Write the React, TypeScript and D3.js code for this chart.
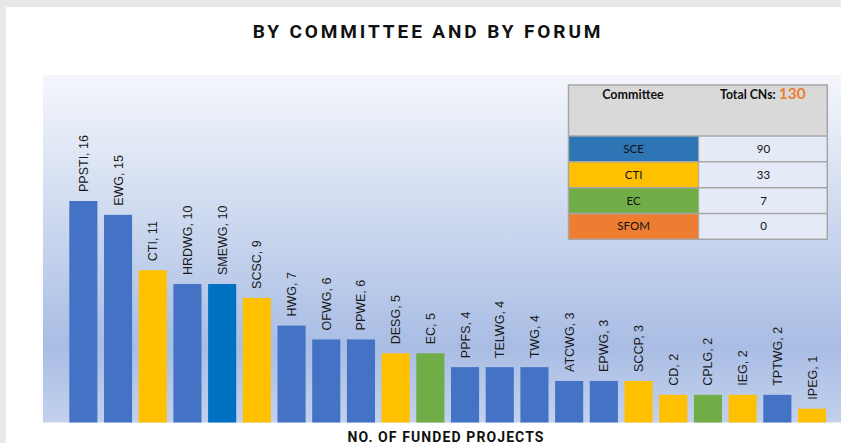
import * as d3 from 'd3';
import React, { useEffect, useRef } from 'react';

// forum names, funded project counts and which committee each belongs to
const forums = ['PPSTI', 'EWG', 'CTI', 'HRDWG', 'SMEWG', 'SCSC', 'HWG', 'OFWG', 'PPWE', 'DESG', 'EC', 'PPFS', 'TELWG', 'TWG', 'ATCWG', 'EPWG', 'SCCP', 'CD', 'CPLG', 'IEG', 'TPTWG', 'IPEG'];
const projects = [16, 15, 11, 10, 10, 9, 7, 6, 6, 5, 5, 4, 4, 4, 3, 3, 3, 2, 2, 2, 2, 1];
const groups = ['SCE', 'SCE', 'CTI', 'SCE', 'SCE2', 'CTI', 'SCE', 'SCE', 'SCE', 'CTI', 'EC', 'SCE', 'SCE', 'SCE', 'SCE', 'SCE', 'CTI', 'CTI', 'EC', 'CTI', 'SCE', 'CTI'];

// summary table
const committees = ['SCE', 'CTI', 'EC', 'SFOM'];
const committeeTotals = [90, 33, 7, 0];
const totalCNs = 130;

const barColor = d3
  .scaleOrdinal<string, string>()
  .domain(['SCE', 'SCE2', 'CTI', 'EC'])
  .range(['#4472c4', '#0070c0', '#ffc000', '#70ad47']);

const tableColor = d3
  .scaleOrdinal<string, string>()
  .domain(committees)
  .range(['#2e75b6', '#ffc000', '#70ad47', '#ed7d31']);

export default function App() {
  const svgRef = useRef<SVGSVGElement>(null);
  const width = 841;
  const height = 443;
  const plotLeft = 43;
  const plotTop = 75;
  const plotBottom = 422.5;

  useEffect(() => {
    const svg = d3.select(svgRef.current);
    svg.selectAll('*').remove();

    const data = forums.map((f, i) => ({ forum: f, value: projects[i], group: groups[i] }));

    const x = d3
      .scaleBand()
      .domain(forums)
      .range([66, 829.4])
      .paddingInner(0.19)
      .paddingOuter(0.095);

    const y = d3.scaleLinear().domain([0, 16]).range([plotBottom, 201]);

    // page background
    svg.append('rect').attr('width', width).attr('height', height).attr('fill', '#e8e8e8');
    svg.append('rect').attr('x', 6).attr('y', 7).attr('width', width - 6).attr('height', height - 7).attr('fill', '#ffffff');

    // plot gradient
    const defs = svg.append('defs');
    const grad = defs
      .append('linearGradient')
      .attr('id', 'plotGrad')
      .attr('x1', 0)
      .attr('y1', 0)
      .attr('x2', 0)
      .attr('y2', 1);
    grad.append('stop').attr('offset', '0%').attr('stop-color', '#f4f6fb');
    grad.append('stop').attr('offset', '25%').attr('stop-color', '#dde5f4');
    grad.append('stop').attr('offset', '78%').attr('stop-color', '#a9bde4');
    grad.append('stop').attr('offset', '100%').attr('stop-color', '#c3d1ed');

    svg
      .append('rect')
      .attr('x', plotLeft)
      .attr('y', plotTop)
      .attr('width', width - plotLeft)
      .attr('height', plotBottom - plotTop)
      .attr('fill', 'url(#plotGrad)');

    // title
    svg
      .append('text')
      .attr('x', 428)
      .attr('y', 38)
      .attr('text-anchor', 'middle')
      .style('font-family', 'Roboto, sans-serif')
      .style('font-weight', 'bold')
      .style('font-size', '19px')
      .style('letter-spacing', '2.9px')
      .attr('fill', '#111')
      .text('BY COMMITTEE AND BY FORUM');

    // bars
    svg
      .append('g')
      .selectAll('rect')
      .data(data)
      .enter()
      .append('rect')
      .attr('x', (d) => x(d.forum)!)
      .attr('y', (d) => y(d.value))
      .attr('width', x.bandwidth())
      .attr('height', (d) => y(0) - y(d.value))
      .attr('fill', (d) => barColor(d.group));

    // rotated labels
    svg
      .append('g')
      .selectAll('text')
      .data(data)
      .enter()
      .append('text')
      .attr('transform', (d) => `translate(${x(d.forum)! + x.bandwidth() / 2 + 4.5},${y(d.value) - 9}) rotate(-90)`)
      .style('font-family', '"Liberation Sans", Arial, sans-serif')
      .style('font-size', '12.5px')
      .attr('fill', '#1a1a1a')
      .text((d) => `${d.forum}, ${d.value}`);

    // axis title
    svg
      .append('text')
      .attr('x', 446)
      .attr('y', 441.5)
      .attr('text-anchor', 'middle')
      .style('font-family', 'Roboto, sans-serif')
      .style('font-weight', 'bold')
      .style('font-size', '14px')
      .style('letter-spacing', '1.1px')
      .attr('fill', '#111')
      .text('NO. OF FUNDED PROJECTS');

    // table
    const tx0 = 568.5;
    const tx1 = 698.7;
    const tx2 = 827.3;
    const headTop = 85;
    const headBottom = 136;
    const rowY = d3.scaleBand().domain(committees).range([headBottom, 239.3]);
    const table = svg.append('g');

    table
      .append('rect')
      .attr('x', tx0)
      .attr('y', headTop)
      .attr('width', tx2 - tx0)
      .attr('height', headBottom - headTop)
      .attr('fill', '#d9d9d9');

    table
      .selectAll('.cell-left')
      .data(committees)
      .enter()
      .append('rect')
      .attr('x', tx0)
      .attr('y', (d) => rowY(d)!)
      .attr('width', tx1 - tx0)
      .attr('height', rowY.bandwidth())
      .attr('fill', (d) => tableColor(d));

    table
      .selectAll('.cell-right')
      .data(committees)
      .enter()
      .append('rect')
      .attr('x', tx1)
      .attr('y', (d) => rowY(d)!)
      .attr('width', tx2 - tx1)
      .attr('height', rowY.bandwidth())
      .attr('fill', '#e4eaf6');

    // grid lines
    committees.forEach((c) => {
      table
        .append('line')
        .attr('x1', tx0)
        .attr('x2', tx2)
        .attr('y1', rowY(c)!)
        .attr('y2', rowY(c)!)
        .attr('stroke', '#a6a6a6')
        .attr('stroke-width', 1.5);
    });
    table
      .append('line')
      .attr('x1', tx1)
      .attr('x2', tx1)
      .attr('y1', headBottom)
      .attr('y2', 239.3)
      .attr('stroke', '#a6a6a6')
      .attr('stroke-width', 1);
    table
      .append('rect')
      .attr('x', tx0)
      .attr('y', headTop)
      .attr('width', tx2 - tx0)
      .attr('height', 239.3 - headTop)
      .attr('fill', 'none')
      .attr('stroke', '#a6a6a6')
      .attr('stroke-width', 1.5);

    const cellFont = 'Lato, "Open Sans", sans-serif';
    table
      .append('text')
      .attr('x', 633)
      .attr('y', 99)
      .attr('text-anchor', 'middle')
      .style('font-family', cellFont)
      .style('font-weight', 'bold')
      .style('font-size', '12.5px')
      .attr('fill', '#111')
      .text('Committee');

    const totalText = table
      .append('text')
      .attr('x', 720)
      .attr('y', 99)
      .style('font-family', cellFont)
      .style('font-weight', 'bold')
      .style('font-size', '12.3px')
      .attr('fill', '#111');
    totalText.append('tspan').text('Total CNs: ');
    totalText
      .append('tspan')
      .attr('fill', '#ed7d31')
      .style('font-size', '15.5px')
      .text(totalCNs);

    table
      .selectAll('.name')
      .data(committees)
      .enter()
      .append('text')
      .attr('x', (tx0 + tx1) / 2)
      .attr('y', (d) => rowY(d)! + rowY.bandwidth() / 2 + 4)
      .attr('text-anchor', 'middle')
      .style('font-family', cellFont)
      .style('font-size', '11.5px')
      .attr('fill', '#111')
      .text((d) => d);

    table
      .selectAll('.val')
      .data(committees)
      .enter()
      .append('text')
      .attr('x', (tx1 + tx2) / 2 + 0.5)
      .attr('y', (d) => rowY(d)! + rowY.bandwidth() / 2 + 4)
      .attr('text-anchor', 'middle')
      .style('font-family', cellFont)
      .style('font-size', '11.5px')
      .attr('fill', '#111')
      .text((d, i) => committeeTotals[i]);
  }, []);

  return (
    <svg
      ref={svgRef}
      width={width}
      height={height}
      style={{ position: 'absolute', left: 0, top: 0, display: 'block' }}
    ></svg>
  );
}
